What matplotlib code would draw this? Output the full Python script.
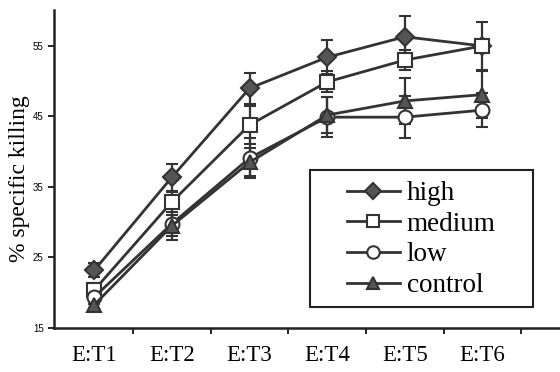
import numpy as np
import matplotlib
matplotlib.use("Agg")
import matplotlib.pyplot as plt
from matplotlib.lines import Line2D
from matplotlib.patches import Rectangle

# Datos
categorias = ["E:T1", "E:T2", "E:T3", "E:T4", "E:T5", "E:T6"]

high = [23.2, 36.4, 49.0, 53.4, 56.3, 55.0]
high_err = [1.0, 1.9, 2.2, 2.4, 3.0, 3.4]

medium = [20.4, 32.9, 43.8, 49.9, 53.0, 55.0]
medium_err = [1.0, 1.4, 2.7, 1.5, 1.4, 1.0]

low = [19.4, 29.8, 39.1, 44.9, 44.9, 45.9]
low_err = [1.0, 2.3, 2.8, 2.8, 3.0, 2.4]

control = [18.3, 29.5, 38.5, 45.2, 47.2, 48.1]
control_err = [0.8, 1.5, 2.0, 2.6, 3.3, 3.3]

yticks = [15, 25, 35, 45, 55]

LINE = "#333333"
FILL = "#555555"

fig = plt.figure(figsize=(5.6, 3.72), dpi=100)
ax = fig.add_axes([54 / 560, 1 - 328 / 372, 506 / 560, 318 / 372])

x = np.arange(1, len(categorias) + 1)

series = [
    ("high", high, high_err, "D", FILL),
    ("medium", medium, medium_err, "s", "white"),
    ("low", low, low_err, "o", "white"),
    ("control", control, control_err, "^", FILL),
]

handles = []
for nombre, vals, err, mk, fc in series:
    ms = 9 if mk == "D" else 10
    ax.errorbar(x, vals, yerr=err, color=LINE, lw=2, marker=mk, ms=ms,
                mfc=fc, mec=LINE, mew=1.5, capsize=4.5, capthick=1.8, elinewidth=1.6)
    handles.append(Line2D([], [], color=LINE, lw=2, marker=mk, ms=ms - 1,
                          mfc=fc, mec=LINE, mew=1.5, label=nombre))

ax.set_xlim(0.48, 7.0)
ax.set_ylim(15, 60.1)

ax.set_xticks(x)
ax.set_xticklabels(categorias, fontfamily="Liberation Serif", fontsize=16.5)
ax.set_xticks(np.arange(1.5, 7.0, 1.0), minor=True)
ax.tick_params(axis="x", which="major", length=0, pad=12)
ax.tick_params(axis="x", which="minor", length=4, width=1.2, direction="out")

ax.set_yticks(yticks)
ax.set_yticklabels([str(v) for v in yticks], fontfamily="Liberation Sans", fontsize=7)
ax.tick_params(axis="y", length=4, width=1.2, direction="out")

ax.set_ylabel("% specific killing", fontfamily="Liberation Serif", fontsize=17)
ax.yaxis.set_label_coords(-0.047, 0.47)

for s in ["top", "right"]:
    ax.spines[s].set_visible(False)
for s in ["left", "bottom"]:
    ax.spines[s].set_linewidth(1.8)
    ax.spines[s].set_color("#222222")

# recuadro de la leyenda (más ancho que el contenido, como en el original)
ax.add_patch(Rectangle((0.506, 0.066), 0.441, 0.431, transform=ax.transAxes,
                       fill=False, ec="#222222", lw=1.5, zorder=5))
ax.legend(handles=handles, loc="upper left", bbox_to_anchor=(0.579, 0.462),
          frameon=False, prop={"family": "Liberation Serif", "size": 19.5},
          handlelength=1.95, handletextpad=0.26, labelspacing=0.21,
          borderpad=0, borderaxespad=0)

fig.savefig("out.png", dpi=100)
